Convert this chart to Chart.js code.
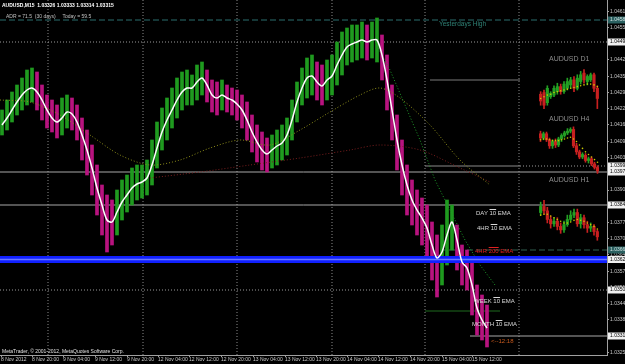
<!DOCTYPE html>
<html>
<head>
<meta charset="utf-8">
<script src="https://cdn.jsdelivr.net/npm/chart.js@4.4.0/dist/chart.umd.min.js"></script>
<style>
  body { margin: 0; background: #000; width: 625px; height: 364px; overflow: hidden; position: relative; font-family: "Liberation Sans", sans-serif; }
  canvas { position: absolute; }
  .t { position: absolute; white-space: nowrap; font-size: 5px; line-height: 6px; color: #d8d8d8; }
  .o { text-decoration: overline; }
</style>
</head>
<body>
<canvas id="main" width="625" height="364" style="left:0;top:0"></canvas>
<canvas id="d1" width="68" height="52" style="left:535px;top:64px"></canvas>
<canvas id="h4" width="68" height="58" style="left:535px;top:122px"></canvas>
<canvas id="h1" width="68" height="60" style="left:535px;top:186px"></canvas>

<div class="t" style="left:2px;top:2px;font-weight:bold;color:#fff">AUDUSD,M15&nbsp; 1.03326 1.03333 1.03314 1.03315</div>
<div class="t" style="left:6px;top:13px;color:#c0c0c0">ADR = 71.5&nbsp; (30 days)&nbsp;&nbsp;&nbsp;&nbsp; Today = 59.5</div>
<div class="t" style="left:439px;top:21px;font-size:6.5px;color:#2f8276">Yesterdays High</div>
<div class="t" style="left:549px;top:56px;font-size:7px;color:#8c8c8c">AUDUSD D1</div>
<div class="t" style="left:549px;top:116px;font-size:7px;color:#8c8c8c">AUDUSD H4</div>
<div class="t" style="left:549px;top:177px;font-size:7px;color:#8c8c8c">AUDUSD H1</div>
<div class="t" style="left:476px;top:210px;font-size:6px">DAY <span class="o">10</span> EMA</div>
<div class="t" style="left:477px;top:225px;font-size:6px">4HR <span class="o">10</span> EMA</div>
<div class="t" style="left:475px;top:248px;font-size:6px;color:#e02020">4HR <span class="o">200</span> EMA</div>
<div class="t" style="left:474px;top:298px;font-size:6px">WEEK <span class="o">10</span> EMA</div>
<div class="t" style="left:472px;top:321px;font-size:6px">MONTH <span class="o">10</span> EMA</div>
<div class="t" style="left:491px;top:338px;font-size:6px;color:#c85a1e">&lt;--12:18</div>
<div class="t" style="left:2px;top:348px;color:#e0e0e0">MetaTrader, © 2001-2012, MetaQuotes Software Corp.</div>

<script>
// M15 price, sampled every 5 bars (highs / lows of the group, 10 EMA)
const highs = [
  1.04220,1.04260,1.04292,1.04320,1.04348,1.04380,1.04388,1.04372,1.04320,1.04280,
  1.04260,1.04240,1.04268,1.04280,1.04268,1.04240,1.04188,1.04140,1.04080,1.04000,
  1.03920,1.03880,1.03860,1.03900,1.03940,1.03960,1.03988,1.04000,1.04000,1.04020,
  1.04100,1.04172,1.04228,1.04268,1.04308,1.04348,1.04372,1.04380,1.04360,1.04400,
  1.04412,1.04380,1.04340,1.04332,1.04340,1.04320,1.04308,1.04300,1.04280,1.04252,
  1.04200,1.04160,1.04132,1.04108,1.04120,1.04140,1.04160,1.04188,1.04260,1.04332,
  1.04388,1.04428,1.04440,1.04412,1.04400,1.04420,1.04440,1.04492,1.04532,1.04548,
  1.04560,1.04560,1.04572,1.04560,1.04572,1.04588,1.04520,1.04440,1.04320,1.04200,
  1.04100,1.04000,1.03940,1.03900,1.03868,1.03840,1.03772,1.03720,1.03760,1.03860,
  1.03840,1.03760,1.03680,1.03660,1.03612,1.03520,1.03480,1.03440
];
const lows = [
  1.04120,1.04140,1.04172,1.04200,1.04220,1.04240,1.04252,1.04220,1.04180,1.04148,
  1.04132,1.04108,1.04120,1.04148,1.04140,1.04100,1.04020,1.03960,1.03880,1.03800,
  1.03720,1.03652,1.03680,1.03720,1.03780,1.03812,1.03840,1.03860,1.03868,1.03880,
  1.03920,1.03988,1.04060,1.04100,1.04148,1.04188,1.04220,1.04240,1.04240,1.04260,
  1.04280,1.04252,1.04212,1.04200,1.04220,1.04212,1.04200,1.04180,1.04148,1.04100,
  1.04052,1.04012,1.03980,1.03972,1.03988,1.04000,1.04020,1.04040,1.04100,1.04172,
  1.04240,1.04268,1.04280,1.04260,1.04240,1.04260,1.04280,1.04320,1.04360,1.04400,
  1.04412,1.04420,1.04428,1.04420,1.04428,1.04412,1.04340,1.04220,1.04100,1.03980,
  1.03880,1.03800,1.03760,1.03720,1.03680,1.03620,1.03540,1.03472,1.03520,1.03600,
  1.03660,1.03580,1.03520,1.03500,1.03400,1.03320,1.03300,1.03272
];
const ema10 = [
  1.04160,1.04188,1.04220,1.04252,1.04280,1.04300,1.04308,1.04292,1.04260,1.04220,
  1.04188,1.04172,1.04188,1.04212,1.04204,1.04172,1.04120,1.04060,1.03988,1.03908,
  1.03840,1.03780,1.03772,1.03812,1.03852,1.03880,1.03908,1.03924,1.03932,1.03948,
  1.04000,1.04068,1.04132,1.04180,1.04220,1.04260,1.04292,1.04308,1.04308,1.04332,
  1.04348,1.04320,1.04280,1.04268,1.04280,1.04268,1.04260,1.04244,1.04220,1.04180,
  1.04132,1.04092,1.04060,1.04044,1.04060,1.04076,1.04088,1.04120,1.04180,1.04252,
  1.04308,1.04348,1.04356,1.04332,1.04316,1.04340,1.04356,1.04400,1.04440,1.04472,
  1.04484,1.04492,1.04500,1.04492,1.04500,1.04500,1.04440,1.04340,1.04220,1.04100,
  1.04000,1.03920,1.03860,1.03820,1.03788,1.03748,1.03680,1.03628,1.03652,1.03720,
  1.03772,1.03700,1.03612,1.03588,1.03520,1.03428,1.03380,1.03348
];
const firstBar = 2;
const barStep = 5;

// slower moving averages (bar position, value)
const olivePos = [0, 30, 60, 90, 120, 150, 180, 210, 240, 270, 300, 330, 360, 380, 400, 430, 460, 490];
const oliveVal = [1.0426, 1.04252, 1.0420, 1.0412, 1.0404, 1.0400, 1.0402, 1.04068, 1.0410, 1.0408, 1.0414, 1.04212, 1.0428, 1.04308, 1.04268, 1.0416, 1.0402, 1.0392];
const maroonPos = [150, 200, 250, 300, 350, 380, 420, 460, 490];
const maroonVal = [1.03948, 1.03972, 1.0400, 1.04028, 1.0406, 1.0408, 1.0406, 1.03988, 1.03932];
const greenPos = [378, 390, 405, 420, 435, 450, 465, 480, 495];
const greenVal = [1.04468, 1.0438, 1.0424, 1.0410, 1.0394, 1.0382, 1.0370, 1.0360, 1.0352];

// levels
const yesterdaysHigh = 1.0458;
const dottedLevels = [1.04492, 1.0350];
const solidLevels = [1.03972, 1.0384];
const boxTop = 1.0434;
const boxBottom = 1.03996;
const ema4h200 = 1.0366;
const blueLevel = 1.03622;
const weekLevel = 1.03416;
const bidPrice = 1.03316;

// axes
const tickBars = [1, 32, 63, 95, 127, 158, 189, 221, 253, 285, 316, 347, 378, 410, 442, 472];
const tickLabels = ['8 Nov 2012', '8 Nov 20:00', '9 Nov 04:00', '9 Nov 12:00', '9 Nov 20:00', '12 Nov 04:00',
  '12 Nov 12:00', '12 Nov 20:00', '13 Nov 04:00', '13 Nov 12:00', '13 Nov 20:00', '14 Nov 04:00',
  '14 Nov 12:00', '14 Nov 20:00', '15 Nov 04:00', '15 Nov 12:00'];
const daySeparators = [48, 143, 237, 332, 425, 519];
const yTicks = [1.03250, 1.03315, 1.03380, 1.03445, 1.03510, 1.03575, 1.03640, 1.03705, 1.03770, 1.03835,
  1.03900, 1.03965, 1.04030, 1.04095, 1.04160, 1.04225, 1.04290, 1.04355, 1.04420, 1.04485, 1.04550, 1.04615];
const axisMarks = [1.0458, 1.04492, 1.03996, 1.03972, 1.0384, 1.0366, 1.03622, 1.0350, 1.03316];
const axisMarkBg = ['#2a6060', '#f0f0f0', '#f0f0f0', '#f0f0f0', '#f0f0f0', '#2a6060', '#f0f0f0', '#f0f0f0', '#f0f0f0'];

const Y_MIN = 1.0324, Y_MAX = 1.0466, X_MAX = 607;

// mini charts
const d1Open  = [1.0380,1.0388,1.0340,1.0368,1.0376,1.0392,1.0416,1.0392,1.0408,1.0424,1.0448,1.0408,1.0440,1.0480,1.0440,1.0448,1.0472,1.0408];
const d1Close = [1.0348,1.0328,1.0408,1.0384,1.0408,1.0416,1.0392,1.0428,1.0440,1.0448,1.0408,1.0456,1.0472,1.0448,1.0464,1.0472,1.0408,1.0360];
const d1High  = [1.0392,1.0400,1.0420,1.0392,1.0420,1.0432,1.0428,1.0440,1.0456,1.0460,1.0464,1.0472,1.0488,1.0496,1.0472,1.0480,1.0480,1.0420];
const d1Low   = [1.0328,1.0312,1.0328,1.0360,1.0368,1.0380,1.0380,1.0384,1.0400,1.0408,1.0392,1.0400,1.0428,1.0432,1.0424,1.0440,1.0392,1.0312];
const d1Ma    = [1.0360,1.0368,1.0376,1.0380,1.0388,1.0392,1.0396,1.0400,1.0404,1.0408,1.0412,1.0416,1.0420,1.0424,1.0428,1.0428,1.0424,1.0416];

const h4Open  = [1.0469,1.0464,1.0469,1.0462,1.0455,1.0460,1.0456,1.0463,1.0467,1.0470,1.0472,1.0474,1.0455,1.0448,1.0442,1.0444,1.0438,1.0440,1.0434,1.0430];
const h4Close = [1.0464,1.0469,1.0462,1.0455,1.0460,1.0456,1.0463,1.0467,1.0470,1.0472,1.0474,1.0455,1.0448,1.0442,1.0445,1.0438,1.0440,1.0434,1.0430,1.0426];
const h4High  = [1.0472,1.0471,1.0471,1.0464,1.0462,1.0463,1.0465,1.0469,1.0472,1.0475,1.0476,1.0477,1.0458,1.0450,1.0447,1.0446,1.0442,1.0442,1.0436,1.0432];
const h4Low   = [1.0460,1.0462,1.0460,1.0452,1.0452,1.0453,1.0454,1.0460,1.0465,1.0468,1.0470,1.0453,1.0445,1.0440,1.0440,1.0436,1.0435,1.0432,1.0428,1.0423];
const h4Ma    = [1.0462,1.0463,1.0463,1.0462,1.0461,1.0461,1.0461,1.0462,1.0463,1.0464,1.0465,1.0463,1.0460,1.0456,1.0452,1.0448,1.0445,1.0442,1.0439,1.0436];

const h1Open  = [1.0418,1.0425,1.0420,1.0410,1.0405,1.0408,1.0402,1.0398,1.0404,1.0410,1.0415,1.0418,1.0405,1.0412,1.0404,1.0400,1.0402,1.0396];
const h1Close = [1.0425,1.0420,1.0410,1.0405,1.0408,1.0402,1.0398,1.0404,1.0410,1.0415,1.0418,1.0405,1.0412,1.0404,1.0400,1.0402,1.0396,1.0390];
const h1High  = [1.0430,1.0432,1.0424,1.0414,1.0412,1.0412,1.0406,1.0408,1.0415,1.0420,1.0422,1.0422,1.0416,1.0415,1.0408,1.0406,1.0404,1.0398];
const h1Low   = [1.0415,1.0416,1.0406,1.0400,1.0402,1.0398,1.0394,1.0395,1.0402,1.0408,1.0412,1.0402,1.0400,1.0400,1.0395,1.0396,1.0392,1.0386];
const h1Ma    = [1.0415,1.0416,1.0416,1.0414,1.0412,1.0410,1.0408,1.0406,1.0406,1.0407,1.0409,1.0410,1.0409,1.0408,1.0406,1.0404,1.0402,1.0399];

function hline(price, x0, x1, color, dash, width, order) {
  return {
    type: 'line', data: [{ x: x0, y: price }, { x: x1, y: price }],
    borderColor: color, borderWidth: width || 1, borderDash: dash || [],
    pointRadius: 0, order: order || 6
  };
}
function vline(bar, color) {
  return {
    type: 'line', data: [{ x: bar, y: Y_MIN }, { x: bar, y: Y_MAX }],
    borderColor: color, borderWidth: 1, borderDash: [1, 2], pointRadius: 0, order: 7
  };
}
function pts(pos, vals) { return pos.map((p, i) => ({ x: p, y: vals[i] })); }

const barPos = highs.map((_, i) => firstBar + i * barStep);
const candleColors = ema10.map((v, i) => (i === 0 || v >= ema10[i - 1]) ? '#1f9a1f' : '#b8137f');

const datasets = [
  { type: 'line', data: pts(barPos, ema10), borderColor: '#ffffff', borderWidth: 1.5, pointRadius: 0, tension: 0.3, order: 0 },
  hline(blueLevel, 0, X_MAX, '#1020ff', [], 7, 1),
  hline(blueLevel, 0, X_MAX, '#6a78ff', [], 1.5, 0.5),
  { type: 'line', data: pts(greenPos, greenVal), borderColor: '#1f9a2a', borderWidth: 1, borderDash: [1, 2], pointRadius: 0, order: 3 },
  { type: 'line', data: pts(olivePos, oliveVal), borderColor: '#8c8c1a', borderWidth: 1, borderDash: [1, 2], pointRadius: 0, tension: 0.3, order: 3 },
  { type: 'line', data: pts(maroonPos, maroonVal), borderColor: '#7a1e1e', borderWidth: 1, borderDash: [1, 2], pointRadius: 0, tension: 0.3, order: 3 },
  {
    type: 'bar', data: barPos.map((x, i) => ({ x: x, y: [lows[i], highs[i]] })),
    backgroundColor: candleColors, barThickness: 3, order: 5
  },
  hline(yesterdaysHigh, 0, X_MAX, '#2a6e6e', [6, 3]),
  hline(dottedLevels[0], 0, X_MAX, '#9a9a9a', [1, 2]),
  hline(dottedLevels[1], 0, X_MAX, '#9a9a9a', [1, 2]),
  hline(solidLevels[0], 0, X_MAX, '#a8a8a8'),
  hline(solidLevels[1], 0, X_MAX, '#a8a8a8'),
  hline(boxTop, 430, 520, '#7a7a7a'),
  hline(boxBottom, 425, 520, '#8a8a8a'),
  hline(boxBottom, 520, X_MAX, '#9a9a9a', [1, 2]),
  hline(ema4h200, 440, X_MAX, '#2f5f4f', [6, 3]),
  hline(weekLevel, 425, 500, '#1f6a1f'),
  hline(bidPrice, 470, X_MAX, '#a8a8a8')
].concat(daySeparators.map(b => vline(b, '#8a8a8a')));

const axisMarkPlugin = {
  id: 'axisMarks',
  afterDraw(chart) {
    const ctx = chart.ctx, y = chart.scales.y;
    ctx.save();
    ctx.font = '5px "Liberation Sans"';
    ctx.textBaseline = 'middle';
    axisMarks.forEach((p, i) => {
      const py = y.getPixelForValue(p);
      ctx.fillStyle = axisMarkBg[i];
      ctx.fillRect(chart.chartArea.right + 1, py - 3.5, 20, 7);
      ctx.fillStyle = axisMarkBg[i] === '#f0f0f0' ? '#000' : '#d0e0e0';
      ctx.fillText(p.toFixed(5), chart.chartArea.right + 3, py);
    });
    ctx.restore();
  }
};

new Chart(document.getElementById('main'), {
  data: { datasets: datasets },
  plugins: [axisMarkPlugin],
  options: {
    responsive: false,
    animation: false,
    events: [],
    layout: { padding: 0 },
    plugins: { legend: { display: false }, tooltip: { enabled: false } },
    scales: {
      x: {
        type: 'linear', min: 0, max: X_MAX, position: 'bottom', offset: false,
        afterFit: s => { s.height = 9; s.paddingLeft = 0; s.paddingRight = 0; },
        afterBuildTicks: s => { s.ticks = tickBars.map(v => ({ value: v })); },
        ticks: {
          color: '#c8c8c8', font: { size: 5, family: 'Liberation Sans' }, padding: 0,
          maxRotation: 0, autoSkip: false, align: 'start',
          callback: v => tickLabels[tickBars.indexOf(v)]
        },
        grid: { drawOnChartArea: false, offset: false, color: '#a0a0a0', tickLength: 2 },
        border: { color: '#a0a0a0' }
      },
      y: {
        type: 'linear', min: Y_MIN, max: Y_MAX, position: 'right', beginAtZero: false,
        afterFit: s => { s.width = 18; s.paddingTop = 0; s.paddingBottom = 0; },
        afterBuildTicks: s => { s.ticks = yTicks.map(v => ({ value: v })); },
        ticks: { color: '#c8c8c8', font: { size: 5, family: 'Liberation Sans' }, padding: 1, callback: v => v.toFixed(5) },
        grid: { drawOnChartArea: false, color: '#a0a0a0', tickLength: 2 },
        border: { color: '#a0a0a0' }
      }
    }
  }
});

function miniChart(id, open, close, high, low, ma, yMin, yMax) {
  const colors = open.map((o, i) => close[i] >= o ? '#23a023' : '#c82020');
  new Chart(document.getElementById(id), {
    type: 'bar',
    data: {
      labels: open.map((_, i) => i),
      datasets: [
        { type: 'line', data: ma, showLine: false, pointRadius: 0.8, pointBackgroundColor: '#c8c800', pointBorderWidth: 0, order: 0 },
        { data: open.map((o, i) => [o, close[i]]), backgroundColor: colors, barThickness: 2.5, grouped: false, order: 1 },
        { data: low.map((l, i) => [l, high[i]]), backgroundColor: colors, barThickness: 1, grouped: false, order: 2 }
      ]
    },
    options: {
      responsive: false, animation: false, events: [],
      layout: { padding: 0 },
      plugins: { legend: { display: false }, tooltip: { enabled: false } },
      scales: {
        x: { display: false, offset: true },
        y: { display: false, min: yMin, max: yMax }
      }
    }
  });
}
miniChart('d1', d1Open, d1Close, d1High, d1Low, d1Ma, 1.0296, 1.0504);
miniChart('h4', h4Open, h4Close, h4High, h4Low, h4Ma, 1.0420, 1.0478);
miniChart('h1', h1Open, h1Close, h1High, h1Low, h1Ma, 1.0384, 1.0444);
</script>
</body>
</html>
